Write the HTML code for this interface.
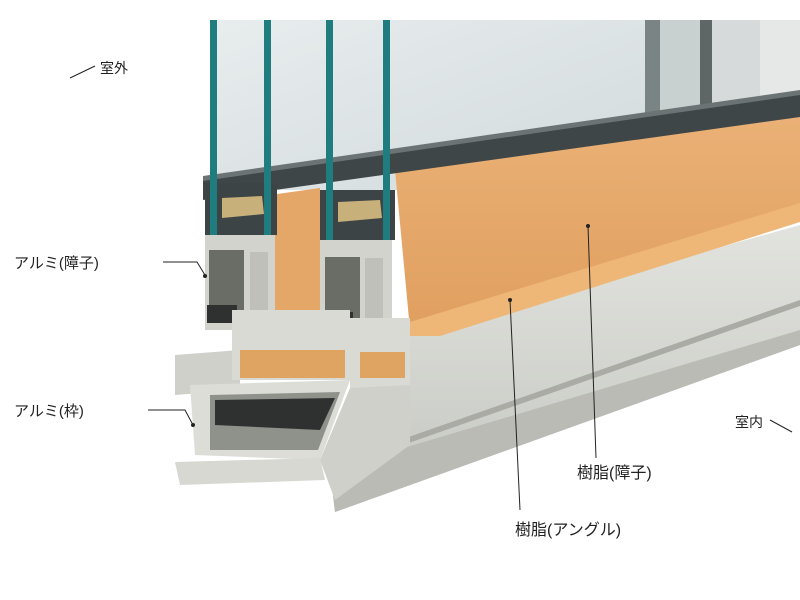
<!DOCTYPE html>
<html><head><meta charset="utf-8"><style>
html,body{margin:0;padding:0;background:#fff;width:800px;height:600px;overflow:hidden}
svg{display:block}
text{font-family:"Liberation Sans","Noto Sans CJK JP",sans-serif;fill:#222}
</style></head><body>
<svg width="800" height="600" viewBox="0 0 800 600" xmlns="http://www.w3.org/2000/svg">
<defs>
<linearGradient id="gl" x1="0" y1="0" x2="1" y2="1"><stop offset="0" stop-color="#e8edee"/><stop offset="1" stop-color="#d2dadc"/></linearGradient>
<linearGradient id="or" x1="0" y1="0" x2="0" y2="1"><stop offset="0" stop-color="#eab176"/><stop offset="1" stop-color="#e09f5f"/></linearGradient>
<linearGradient id="gr" x1="0" y1="0" x2="0" y2="1"><stop offset="0" stop-color="#e2e3de"/><stop offset="1" stop-color="#c4c6c0"/></linearGradient>
</defs>
<rect x="210" y="20" width="440" height="170" fill="url(#gl)"/>
<rect x="645" y="20" width="15" height="110" fill="#7b8484"/>
<rect x="660" y="20" width="40" height="110" fill="#c9d0d0"/>
<rect x="700" y="20" width="12" height="105" fill="#5e6666"/>
<rect x="712" y="20" width="48" height="105" fill="#d6dada"/>
<rect x="760" y="20" width="40" height="100" fill="#e6e8e8"/>
<!-- orange sash big face -->
<polygon points="395,170 800,112 800,205 410,330" fill="url(#or)"/>
<polygon points="270,195 320,188 320,330 275,335" fill="#e5a768"/>
<!-- top dark rail -->
<polygon points="203,178 800,92 800,117 203,200" fill="#3f4648"/>
<polygon points="203,176 800,90 800,95 203,181" fill="#6b7375"/>
<!-- gray frame -->
<polygon points="405,335 800,225 800,345 335,512 330,470 400,440" fill="url(#gr)"/>
<polygon points="330,470 800,330 800,345 335,512" fill="#b9bbb4"/>
<polygon points="400,440 800,300 800,306 400,446" fill="#a9aba4"/>
<polygon points="410,322 800,203 800,222 440,336 410,336" fill="#eeb778"/>
<rect x="205" y="183" width="72" height="52" fill="#3d4446"/>
<rect x="320" y="190" width="75" height="50" fill="#3d4446"/>
<polygon points="222,198 262,196 264,214 222,218" fill="#c7b07a"/>
<polygon points="338,202 380,200 382,218 338,222" fill="#c7b07a"/>
<g fill="#1f7d80">
<rect x="210" y="20" width="7" height="215"/><rect x="264" y="20" width="7" height="215"/>
<rect x="326" y="20" width="7" height="222"/><rect x="383" y="20" width="7" height="222"/>
</g>
<rect x="205" y="235" width="70" height="95" fill="#d2d3cd"/>
<rect x="209" y="250" width="35" height="70" fill="#6a6c66"/>
<rect x="250" y="252" width="18" height="65" fill="#bfc0ba"/>
<rect x="207" y="305" width="30" height="18" fill="#2e3130"/>
<rect x="320" y="240" width="72" height="95" fill="#d2d3cd"/>
<rect x="325" y="257" width="35" height="70" fill="#6a6c66"/>
<rect x="365" y="258" width="18" height="65" fill="#bfc0ba"/>
<rect x="323" y="312" width="30" height="18" fill="#2e3130"/>
<polygon points="175,355 240,350 240,390 175,395" fill="#cfd0ca"/>
<rect x="232" y="310" width="118" height="70" fill="#d9dad4"/>
<rect x="240" y="350" width="105" height="28" fill="#e0a462"/>
<rect x="350" y="318" width="60" height="70" fill="#d9dad4"/>
<rect x="360" y="352" width="45" height="26" fill="#e0a462"/>
<polygon points="190,385 350,380 320,460 195,455" fill="#dcddd7"/>
<polygon points="210,395 340,392 318,450 210,450" fill="#8f918b"/>
<polygon points="215,400 335,398 320,430 215,425" fill="#2f3130"/>
<polygon points="175,462 320,458 325,480 180,485" fill="#d7d8d2"/>
<polygon points="320,460 350,388 410,385 410,445 335,500" fill="#cfd0ca"/>
<g stroke="#222" stroke-width="1" fill="none">
<polyline points="70,78 95,66"/>
<polyline points="163,262 197,262 205,275"/>
<polyline points="148,410 185,410 193,425"/>
<polyline points="770,420 792,432"/>
<line x1="588" y1="226" x2="596" y2="458"/>
<line x1="510" y1="300" x2="520" y2="510"/>
</g>
<circle cx="205" cy="276" r="2" fill="#222"/><circle cx="193" cy="425" r="2" fill="#222"/>
<circle cx="588" cy="226" r="2" fill="#222"/><circle cx="510" cy="300" r="2" fill="#222"/>
<text x="100" y="73" font-size="14">室外</text>
<text x="14" y="268" font-size="15">アルミ(障子)</text>
<text x="14" y="416" font-size="15">アルミ(枠)</text>
<text x="735" y="427" font-size="14">室内</text>
<text x="577" y="478" font-size="16">樹脂(障子)</text>
<text x="515" y="535" font-size="16">樹脂(アングル)</text>
</svg>
</body></html>
